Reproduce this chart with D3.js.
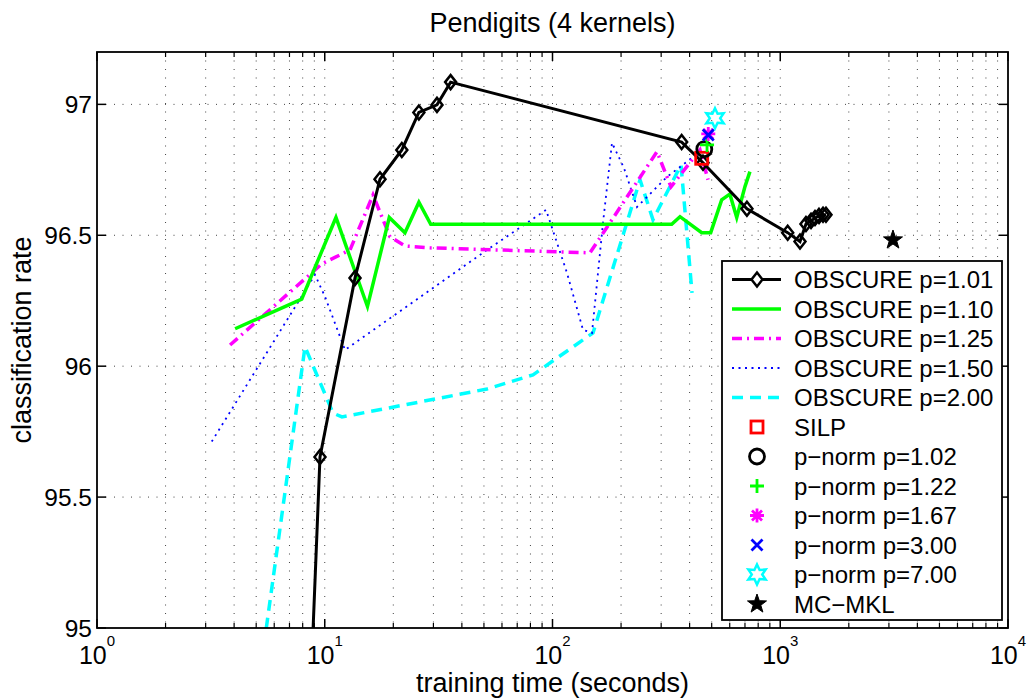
<!DOCTYPE html>
<html>
<head>
<meta charset="utf-8">
<script src="https://cdn.jsdelivr.net/npm/d3@7"></script>
<style>
  body { margin: 0; background: #fff; }
  svg { display: block; font-family: "Liberation Sans", Arial, Helvetica, sans-serif; }
</style>
</head>
<body>
<svg id="chart" width="1029" height="698"></svg>
<script>
// ---------- data ----------
// OBSCURE p=1.01
const p101Time = [8.63, 9.53, 13.58, 17.48, 21.8, 25.9, 31.1, 35.7, 369, 458, 714, 1078, 1221, 1297, 1365, 1421, 1480, 1541, 1588];
const p101Rate = [94.72, 95.653, 96.337, 96.714, 96.826, 96.969, 96.998, 97.085, 96.856, 96.777, 96.601, 96.510, 96.476, 96.543, 96.555, 96.566, 96.574, 96.578, 96.578];
// OBSCURE p=1.10
const p110Time = [4.04, 7.92, 11.2, 15.4, 19.2, 22.5, 25.9, 29.2, 333.7, 363, 452, 495, 553, 601, 644, 700, 736];
const p110Rate = [96.143, 96.256, 96.568, 96.228, 96.568, 96.51, 96.626, 96.542, 96.542, 96.571, 96.51, 96.51, 96.635, 96.657, 96.568, 96.686, 96.743];
// OBSCURE p=1.25
const p125Time = [3.84, 9.72, 12.91, 16.29, 19.34, 22.51, 28.98, 146.1, 287.6, 331.4, 444.2, 481.7];
const p125Rate = [96.081, 96.391, 96.444, 96.654, 96.494, 96.459, 96.452, 96.433, 96.819, 96.685, 96.826, 96.712];
// OBSCURE p=1.50
const p150Time = [3.19, 9.06, 10.03, 12.27, 51.6, 93.7, 115.8, 136.1, 149.1, 166.6, 182.5, 206.0, 235.0, 318.2, 409.8];
const p150Rate = [95.712, 96.349, 96.265, 96.062, 96.444, 96.597, 96.356, 96.139, 96.127, 96.547, 96.853, 96.757, 96.608, 96.723, 96.796];
// OBSCURE p=2.00
const p200Time = [5.01, 8.19, 10.87, 11.9, 51.6, 82.1, 150.6, 242.3, 276.2, 366.7, 409.8];
const p200Rate = [94.725, 96.074, 95.821, 95.806, 95.913, 95.967, 96.127, 96.712, 96.559, 96.769, 96.280];

// single-point methods: SILP, p-norm p=1.02,1.22,1.67,3.00,7.00, MC-MKL
const pointNames = ["SILP", "p\u2212norm p=1.02", "p\u2212norm p=1.22", "p\u2212norm p=1.67", "p\u2212norm p=3.00", "p\u2212norm p=7.00", "MC\u2212MKL"];
const pointTime = [452, 464, 477, 483, 483, 517, 3126];
const pointRate = [96.794, 96.829, 96.845, 96.887, 96.883, 96.947, 96.482];

const lineNames = ["OBSCURE p=1.01", "OBSCURE p=1.10", "OBSCURE p=1.25", "OBSCURE p=1.50", "OBSCURE p=2.00"];

const xTickValues = [1, 10, 100, 1000, 10000];
const yTickValues = [95, 95.5, 96, 96.5, 97];
const yTickLabels = ["95", "95.5", "96", "96.5", "97"];

// ---------- setup ----------
const svg = d3.select("#chart");
const mLeft = 97, mRight = 1008, mTop = 52, mBottom = 628;

const x = d3.scaleLog().domain([1, 10000]).range([mLeft, mRight]);
const y = d3.scaleLinear().domain([95, 97.2]).range([mBottom, mTop]);

const gridColor = "#444";

// minor x positions (2..9 in each decade)
const xMinor = [];
for (let e = 0; e < 4; e++) for (let k = 2; k <= 9; k++) xMinor.push(k * Math.pow(10, e));

// grid
const grid = svg.append("g");
grid.selectAll(".vg").data(xMinor.concat([10, 100, 1000])).join("line")
  .attr("x1", d => x(d)).attr("x2", d => x(d))
  .attr("y1", mTop).attr("y2", mBottom)
  .attr("stroke", gridColor).attr("stroke-width", 1).attr("stroke-dasharray", "1,7.5");
grid.selectAll(".hg").data(yTickValues.slice(1)).join("line")
  .attr("x1", mLeft).attr("x2", mRight)
  .attr("y1", d => y(d)).attr("y2", d => y(d))
  .attr("stroke", gridColor).attr("stroke-width", 1).attr("stroke-dasharray", "1,7.5");

// clip for the lines
svg.append("clipPath").attr("id", "plotclip")
  .append("rect").attr("x", mLeft).attr("y", mTop).attr("width", mRight - mLeft).attr("height", mBottom - mTop);

const plot = svg.append("g").attr("clip-path", "url(#plotclip)");

const line = d3.line().x(d => x(d[0])).y(d => y(d[1]));
const zip = (a, b) => a.map((v, i) => [v, b[i]]);

const styles = [
  { color: "#000", width: 3, dash: null },
  { color: "#00ff00", width: 3.5, dash: null },
  { color: "#ff00ff", width: 3.5, dash: "10,5,2,5" },
  { color: "#0000ff", width: 1.8, dash: "2,4.5" },
  { color: "#00ffff", width: 3.5, dash: "11,7" }
];
const series = [zip(p101Time, p101Rate), zip(p110Time, p110Rate), zip(p125Time, p125Rate), zip(p150Time, p150Rate), zip(p200Time, p200Rate)];

// draw in reverse so the black line ends on top
[4, 3, 2, 1, 0].forEach(i => {
  plot.append("path").datum(series[i])
    .attr("d", line)
    .attr("fill", "none")
    .attr("stroke", styles[i].color)
    .attr("stroke-width", styles[i].width)
    .attr("stroke-dasharray", styles[i].dash)
    .attr("stroke-linejoin", "miter");
});

// diamonds
const diamond = (cx, cy) => `M${cx},${cy - 7}L${cx + 5.5},${cy}L${cx},${cy + 7}L${cx - 5.5},${cy}Z`;
plot.selectAll(".dm").data(series[0]).join("path")
  .attr("d", d => diamond(x(d[0]), y(d[1])))
  .attr("fill", "none").attr("stroke", "#000").attr("stroke-width", 2.5);

// marker shapes
function starPath(cx, cy, n, ro, ri, rot) {
  let p = "";
  for (let k = 0; k < 2 * n; k++) {
    const r = k % 2 === 0 ? ro : ri;
    const a = rot + k * Math.PI / n;
    p += (k === 0 ? "M" : "L") + (cx + r * Math.sin(a)).toFixed(2) + "," + (cy - r * Math.cos(a)).toFixed(2);
  }
  return p + "Z";
}
function drawMarker(g, i, cx, cy) {
  if (i === 0) {
    g.append("rect").attr("x", cx - 6).attr("y", cy - 6).attr("width", 12).attr("height", 12)
      .attr("fill", "none").attr("stroke", "#ff0000").attr("stroke-width", 2.8);
  } else if (i === 1) {
    g.append("circle").attr("cx", cx).attr("cy", cy).attr("r", 7.5)
      .attr("fill", "none").attr("stroke", "#000").attr("stroke-width", 2.8);
  } else if (i === 2) {
    g.append("path").attr("d", `M${cx - 7},${cy}H${cx + 7}M${cx},${cy - 7}V${cy + 7}`)
      .attr("stroke", "#00ff00").attr("stroke-width", 2.8);
  } else if (i === 3) {
    const r = 7, q = 5;
    g.append("path").attr("d", `M${cx - r},${cy}H${cx + r}M${cx},${cy - r}V${cy + r}M${cx - q},${cy - q}L${cx + q},${cy + q}M${cx - q},${cy + q}L${cx + q},${cy - q}`)
      .attr("stroke", "#ff00ff").attr("stroke-width", 2.8);
  } else if (i === 4) {
    const q = 5.5;
    g.append("path").attr("d", `M${cx - q},${cy - q}L${cx + q},${cy + q}M${cx - q},${cy + q}L${cx + q},${cy - q}`)
      .attr("stroke", "#0000ff").attr("stroke-width", 2.8);
  } else if (i === 5) {
    g.append("path").attr("d", starPath(cx, cy, 6, 10, 5.2, 0))
      .attr("fill", "none").attr("stroke", "#00ffff").attr("stroke-width", 2.5);
  } else {
    g.append("path").attr("d", starPath(cx, cy, 5, 10, 4, 0))
      .attr("fill", "#000").attr("stroke", "#000").attr("stroke-width", 1);
  }
}
const markers = svg.append("g");
pointTime.forEach((t, i) => drawMarker(markers, i, x(t), y(pointRate[i])));

// ---------- axes box & ticks ----------
const axes = svg.append("g").attr("stroke", "#000");
axes.append("rect").attr("x", mLeft).attr("y", mTop).attr("width", mRight - mLeft).attr("height", mBottom - mTop)
  .attr("fill", "none").attr("stroke-width", 1.8);

xTickValues.forEach(v => {
  axes.append("line").attr("x1", x(v)).attr("x2", x(v)).attr("y1", mBottom).attr("y2", mBottom - 9).attr("stroke-width", 1.5);
  axes.append("line").attr("x1", x(v)).attr("x2", x(v)).attr("y1", mTop).attr("y2", mTop + 9).attr("stroke-width", 1.5);
});
xMinor.forEach(v => {
  axes.append("line").attr("x1", x(v)).attr("x2", x(v)).attr("y1", mBottom).attr("y2", mBottom - 5).attr("stroke-width", 1.2);
  axes.append("line").attr("x1", x(v)).attr("x2", x(v)).attr("y1", mTop).attr("y2", mTop + 5).attr("stroke-width", 1.2);
});
yTickValues.forEach(v => {
  axes.append("line").attr("x1", mLeft).attr("x2", mLeft + 9).attr("y1", y(v)).attr("y2", y(v)).attr("stroke-width", 1.5);
  axes.append("line").attr("x1", mRight).attr("x2", mRight - 9).attr("y1", y(v)).attr("y2", y(v)).attr("stroke-width", 1.5);
});

// tick labels
const labels = svg.append("g").attr("fill", "#000");
yTickValues.forEach((v, i) => {
  labels.append("text").attr("x", mLeft - 5).attr("y", y(v)).attr("dy", "0.36em")
    .attr("text-anchor", "end").attr("font-size", 24.5).text(yTickLabels[i]);
});
xTickValues.forEach(v => {
  const t = labels.append("text").attr("x", x(v)).attr("y", 664)
    .attr("text-anchor", "middle").attr("font-size", 25);
  t.append("tspan").text("10");
  t.append("tspan").attr("dy", -18).attr("font-size", 15).text(Math.round(Math.log10(v)));
});

// title & axis labels
svg.append("text").attr("x", (mLeft + mRight) / 2).attr("y", 32).attr("text-anchor", "middle")
  .attr("font-size", 27).text("Pendigits (4 kernels)");
svg.append("text").attr("x", (mLeft + mRight) / 2).attr("y", 692).attr("text-anchor", "middle")
  .attr("font-size", 27).text("training time (seconds)");
svg.append("text").attr("transform", `translate(31,${(mTop + mBottom) / 2}) rotate(-90)`)
  .attr("text-anchor", "middle").attr("font-size", 27).text("classification rate");

// ---------- legend ----------
const lg = svg.append("g");
lg.append("rect").attr("x", 722).attr("y", 261).attr("width", 280).attr("height", 359)
  .attr("fill", "#fff").attr("stroke", "#000").attr("stroke-width", 1.8);
const rowY = i => 279.5 + i * 29.5;
lineNames.forEach((name, i) => {
  lg.append("line").attr("x1", 732).attr("x2", 781).attr("y1", rowY(i)).attr("y2", rowY(i))
    .attr("stroke", styles[i].color).attr("stroke-width", styles[i].width)
    .attr("stroke-dasharray", styles[i].dash);
  if (i === 0) lg.append("path").attr("d", diamond(757, rowY(i)))
    .attr("fill", "#fff").attr("stroke", "#000").attr("stroke-width", 2.5);
  lg.append("text").attr("x", 794).attr("y", rowY(i)).attr("dy", "0.36em")
    .attr("font-size", 24).text(name);
});
pointNames.forEach((name, j) => {
  const i = j + 5;
  drawMarker(lg, j, 757, rowY(i));
  lg.append("text").attr("x", 794).attr("y", rowY(i)).attr("dy", "0.36em")
    .attr("font-size", 24).text(name);
});
</script>
</body>
</html>
